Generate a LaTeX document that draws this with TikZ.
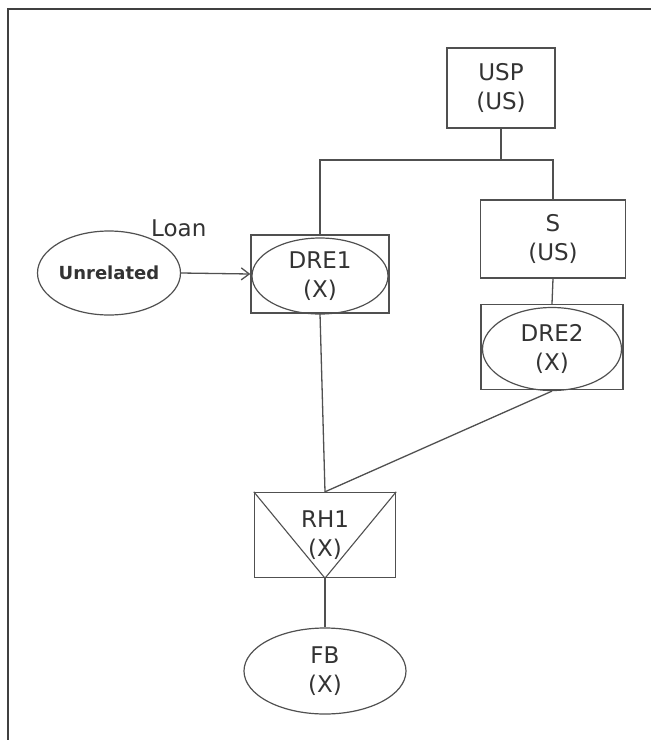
\documentclass[tikz,border=0pt]{standalone}
\usepackage{fontspec}
\setmainfont{DejaVu Sans}
\usetikzlibrary{shapes.geometric,arrows.meta}
\definecolor{ln}{HTML}{505050}
\definecolor{tx}{HTML}{333333}
\tikzset{
  box/.style={draw=ln, line width=1.4pt, rectangle, inner sep=0pt},
  oval/.style={draw=ln, line width=1.2pt, ellipse, inner sep=0pt},
  lbl/.style={text=tx, align=center, font=\fontsize{23}{29}\selectfont},
  conn/.style={draw=ln, line width=1.3pt},
}
\begin{document}
\begin{tikzpicture}[x=1pt,y=-1pt]
\useasboundingbox (0,0) rectangle (651,740);
\fill[white] (0,0) rectangle (651,740);
\draw[draw=ln!80!black, line width=1.6pt] (8,740) -- (8,9) -- (651,9);

\node[box, minimum width=108pt, minimum height=80pt, lbl] (usp) at (501,88) {USP\\(US)};
\node[box, minimum width=145pt, minimum height=78pt, lbl] (s) at (553,239) {S\\(US)};

\node[box, minimum width=138pt, minimum height=78pt] (dre1box) at (320,274) {};
\node[oval, minimum width=136pt, minimum height=76pt, lbl] (dre1) at (320,276) {DRE1\\(X)};

\node[box, minimum width=142pt, minimum height=85pt] (dre2box) at (552,347) {};
\node[oval, minimum width=139pt, minimum height=83pt, lbl] (dre2) at (552,349) {DRE2\\(X)};

\node[oval, minimum width=143pt, minimum height=84pt, text=tx, font=\bfseries\fontsize{18}{20}\selectfont] (unrel) at (109,273) {Unrelated};
\node[text=tx, font=\fontsize{23}{26}\selectfont, anchor=base west, inner sep=0pt] (loan) at (151,236) {Loan};

\node[box, minimum width=141pt, minimum height=85pt, lbl] (rh1) at (325,535) {RH1\\(X)};
\node[oval, minimum width=162pt, minimum height=86pt, lbl] (fb) at (325,671) {FB\\(X)};

\coordinate (split) at (501,160);
\draw[conn] (usp.south) -- (split);
\draw[conn] (dre1box.north) |- (split) -| (s.north);
\draw[conn, -{Straight Barb[length=8pt,width=12pt]}] (unrel.east) -- (dre1box.west);
\draw[conn] (s.south) -- (dre2box.north);
\draw[conn] (dre1box.south) -- (rh1.north);
\draw[conn] (dre2.south) -- (rh1.north);
\draw[conn, line width=1.1pt] (rh1.north west) -- (rh1.south) -- (rh1.north east);
\draw[conn] (rh1.south) -- (fb.north);
\end{tikzpicture}
\end{document}
